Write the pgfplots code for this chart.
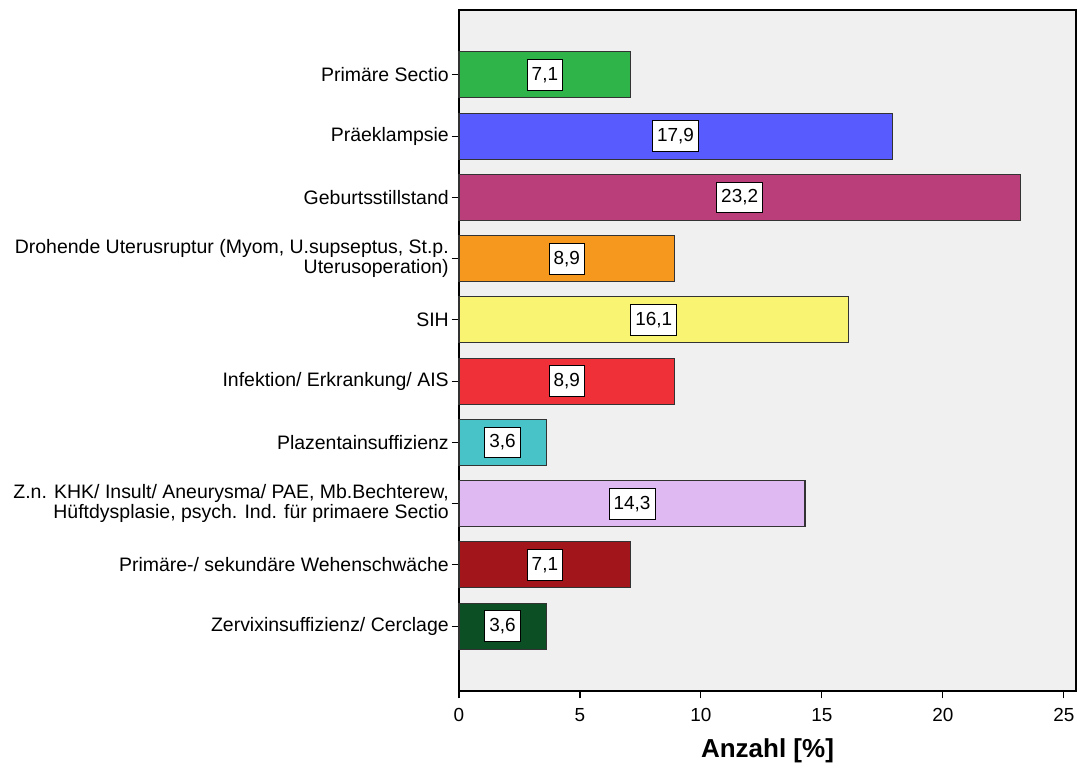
\documentclass[border=0pt]{standalone}
\usepackage{pgfplots}
\pgfplotsset{compat=1.18}
\usepackage{fontspec}
\setmainfont{Liberation Sans}

\definecolor{bgc}{HTML}{F0F0F0}
\definecolor{edge}{HTML}{333333}
\definecolor{c1}{HTML}{2FB44A}
\definecolor{c2}{HTML}{585CFF}
\definecolor{c3}{HTML}{B93E7A}
\definecolor{c4}{HTML}{F7981E}
\definecolor{c5}{HTML}{F9F572}
\definecolor{c6}{HTML}{EF3038}
\definecolor{c7}{HTML}{48C3C8}
\definecolor{c8}{HTML}{DFB9F2}
\definecolor{c9}{HTML}{A2151A}
\definecolor{c10}{HTML}{0C4F25}

\pgfplotsset{
  catbar/.style={xbar, bar width=0.75, bar shift=0pt, draw=edge, line width=0.8pt, fill=#1},
}

\begin{document}
\begin{tikzpicture}
\begin{axis}[
  scale only axis,
  width=462.75pt, height=510.75pt,
  xmin=0, xmax=25.5,
  ymin=-1.06, ymax=10.06,
  y dir=reverse,
  axis background/.style={fill=bgc},
  axis line style={draw=black, line width=0.8pt},
  tick align=outside, tick pos=left,
  major tick length=5.5pt,
  tick style={black, line width=0.8pt},
  xtick={0,5,...,25},
  ytick={0,...,9},
  yticklabels={
    Primäre Sectio,
    Präeklampsie,
    Geburtsstillstand,
    {Drohende Uterusruptur (Myom, U.supseptus, St.p.\\Uterusoperation)},
    SIH,
    {Infektion/ Erkrankung/ AIS},
    Plazentainsuffizienz,
    {Z.n. KHK/ Insult/ Aneurysma/ PAE, Mb.Bechterew,\\Hüftdysplasie, psych. Ind. für primaere Sectio},
    {Primäre-/ sekundäre Wehenschwäche},
    {Zervixinsuffizienz/ Cerclage}
  },
  yticklabel style={align=right, font=\fontsize{14.6}{15}\selectfont, inner sep=2pt},
  xticklabel style={font=\fontsize{14.2}{15}\selectfont, yshift=-4pt},
  /pgf/number format/assume math mode=true,
  xlabel={Anzahl [\%]},
  xlabel style={font=\fontsize{19.5}{22}\selectfont\bfseries, yshift=-6pt},
  clip=false,
]
\addplot[catbar=c1]  coordinates {(7.1,0)};
\addplot[catbar=c2]  coordinates {(17.9,1)};
\addplot[catbar=c3]  coordinates {(23.2,2)};
\addplot[catbar=c4]  coordinates {(8.9,3)};
\addplot[catbar=c5]  coordinates {(16.1,4)};
\addplot[catbar=c6]  coordinates {(8.9,5)};
\addplot[catbar=c7]  coordinates {(3.6,6)};
\addplot[catbar=c8]  coordinates {(14.3,7)};
\addplot[catbar=c9]  coordinates {(7.1,8)};
\addplot[catbar=c10] coordinates {(3.6,9)};

% value boxes in the middle of each bar
\addplot[draw=none, mark=none,
  point meta=explicit,
  nodes near coords={\pgfmathprintnumber[fixed, fixed zerofill, precision=1, use comma, assume math mode=true]{\pgfplotspointmeta}},
  every node near coord/.append style={anchor=center, fill=white, draw=black, line width=0.6pt,
    inner xsep=3.4pt, inner ysep=0pt, minimum height=23pt, font=\fontsize{14.2}{15}\selectfont},
] table[x expr=\thisrow{val}/2, y=pos, meta=val] {
pos val
0 7.1
1 17.9
2 23.2
3 8.9
4 16.1
5 8.9
6 3.6
7 14.3
8 7.1
9 3.6
};
\end{axis}
\pgfresetboundingbox
\path[use as bounding box] ([xshift=-344.25pt,yshift=-61.5pt]current axis.south west) rectangle ([xshift=1.5pt,yshift=7.5pt]current axis.north east);
\end{tikzpicture}
\end{document}
